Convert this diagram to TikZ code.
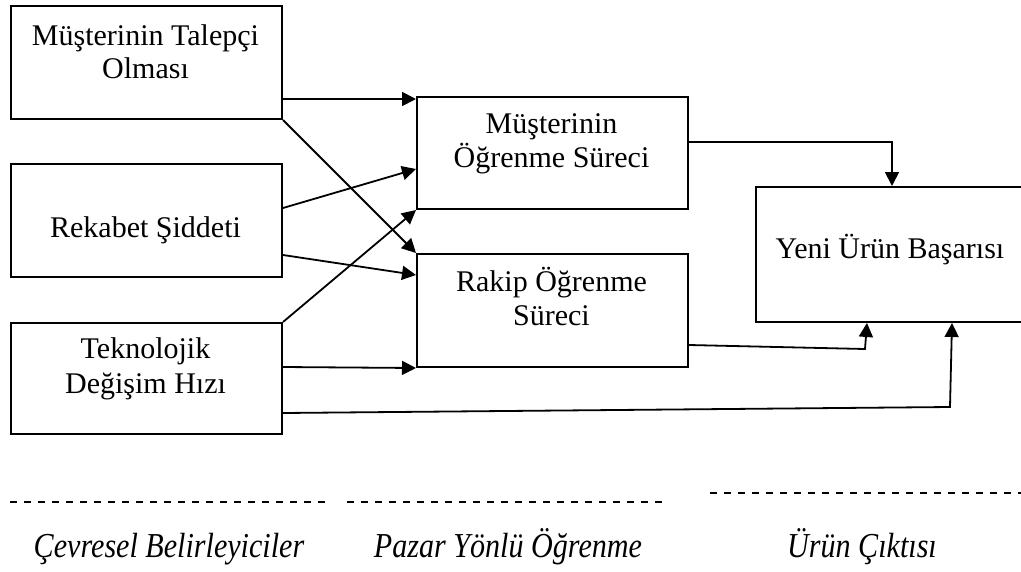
\documentclass[tikz,border=0pt]{standalone}
\usepackage{fontspec}
\setmainfont{Liberation Serif}
\usetikzlibrary{arrows.meta}
\begin{document}
\begin{tikzpicture}[x=1pt,y=-1pt,
  box/.style={draw,line width=2pt,rectangle,inner sep=0pt,anchor=north west},
  txt/.style={anchor=base,inner sep=0pt,font=\fontsize{30}{33}\selectfont},
  cat/.style={anchor=base,inner sep=0pt,font=\fontsize{35}{38}\selectfont\itshape,xscale=0.86},
  arr/.style={line width=1.8pt,-{Triangle[length=14pt,width=14pt]}},
  sep/.style={line width=1.7pt,dash pattern=on 7pt off 7pt}]
\useasboundingbox (0,0) rectangle (1021,571);
% boxes
\node[box,minimum width=271pt,minimum height=113pt] (A) at (10,5) {};
\node[box,minimum width=271pt,minimum height=113pt] (B) at (10,163) {};
\node[box,minimum width=271pt,minimum height=111pt] (C) at (10,322) {};
\node[box,minimum width=271pt,minimum height=112pt] (D) at (416,96) {};
\node[box,minimum width=271pt,minimum height=113pt] (E) at (416,253) {};
\node[box,minimum width=272pt,minimum height=135pt] (F) at (755,186) {};
% texts
\node[txt] (a1) at (145.5,45) {Müşterinin Talepçi};
\node[txt] (a2) at (145.5,78) {Olması};
\node[txt] (b1) at (145.5,237) {Rekabet Şiddeti};
\node[txt] (c1) at (145.5,358) {Teknolojik};
\node[txt] (c2) at (145.5,393) {Değişim Hızı};
\node[txt] (d1) at (551.5,133) {Müşterinin};
\node[txt] (d2) at (551.5,167) {Öğrenme Süreci};
\node[txt] (e1) at (551.5,291) {Rakip Öğrenme};
\node[txt] (e2) at (551.5,325) {Süreci};
\node[txt] (f1) at (890,258) {Yeni Ürün Başarısı};
% bend points
\coordinate (k7) at (950,407);
\coordinate (k9) at (865,349);
% connectors
\draw[arr] ([yshift=21pt]A.south east) -- ([yshift=21pt]A.south east -| D.west);
\draw[arr] (A.south east) -- (E.north west);
\draw[arr] ([yshift=-45pt]B.north east) -- ([yshift=41pt]D.south west);
\draw[arr] ([yshift=23pt]B.south east) -- ([yshift=-22pt]E.north west);
\draw[arr] (C.north east) -- (D.south west);
\draw[arr] ([yshift=-45pt]C.north east) -- (E.south west);
\draw[arr] ([yshift=22pt]C.south east) -- (k7) -- ([xshift=60pt]F.south);
\draw[arr] ([yshift=11pt]D.east) -| (F.north);
\draw[arr] ([yshift=23pt]E.south east) -- (k9) -- ([xshift=-25pt]F.south);
% separators
\coordinate (s1a) at (10,502); \coordinate (s1b) at (328,502);
\coordinate (s2a) at (347,502); \coordinate (s2b) at (663,502);
\coordinate (s3a) at (710,493); \coordinate (s3b) at (1021,493);
\draw[sep] (s1a) -- (s1b);
\draw[sep] (s2a) -- (s2b);
\draw[sep] (s3a) -- (s3b);
% categories
\node[cat] (g1) at (169,557) {Çevresel Belirleyiciler};
\node[cat] (g2) at (508,557) {Pazar Yönlü Öğrenme};
\node[cat] (g3) at (862,557) {Ürün Çıktısı};
\end{tikzpicture}
\end{document}
